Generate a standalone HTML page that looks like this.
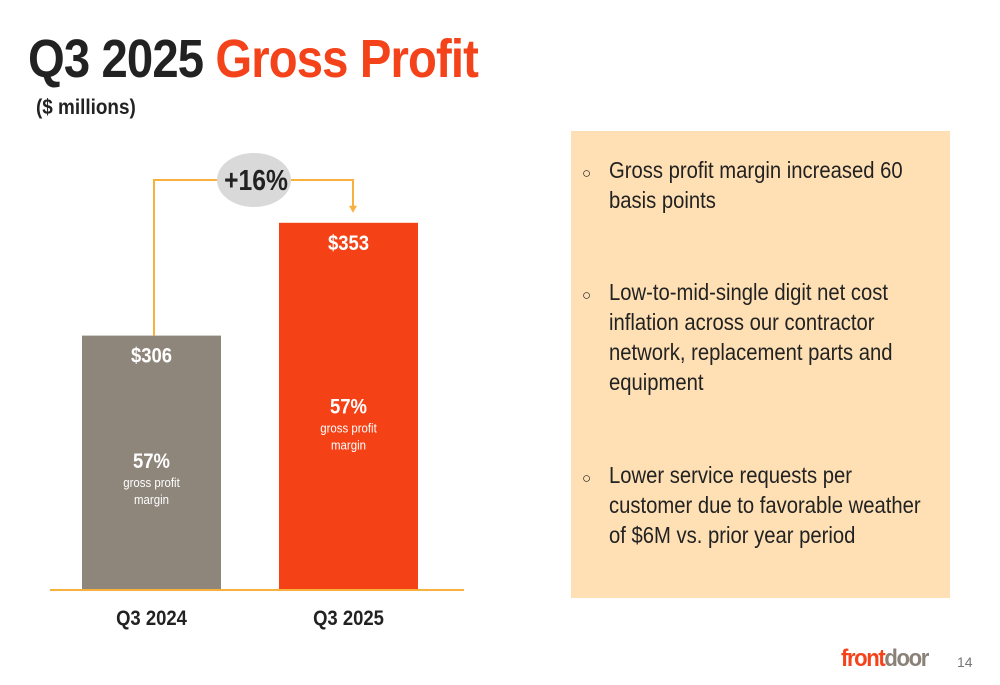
<!DOCTYPE html>
<html><head><meta charset="utf-8"><style>
body{margin:0;width:1000px;height:685px;background:#fff;font-family:"Liberation Sans",sans-serif;position:relative;overflow:hidden}
.abs{position:absolute}
h1{position:absolute;left:28px;top:28px;margin:0;font-size:54px;font-weight:bold;color:#222;letter-spacing:-1px;transform:scaleX(0.875);transform-origin:left;white-space:nowrap}
h1 span{color:#f4431a}
.sub{left:36px;top:96px;font-size:21px;font-weight:bold;color:#222;transform:scaleX(0.9);transform-origin:left}
.box{left:571px;top:131px;width:379px;height:467px;background:#ffe0b4}
.bul{left:582px;font-size:23px;color:#222;width:360px;line-height:30px}
.bul .m{position:absolute;left:0;top:4px;font-size:15px}
.bul .t{margin-left:27px;width:370px;transform:scaleX(0.88);transform-origin:left}
</style></head><body>
<h1>Q3 2025 <span>Gross Profit</span></h1>
<div class="abs sub">($ millions)</div>
<svg class="abs" style="left:0;top:0" width="570" height="685" id="chart"></svg>
<div class="abs box"></div>
<div class="abs bul" style="top:155px"><span class="m">○</span><div class="t">Gross profit margin increased 60 basis points</div></div>
<div class="abs bul" style="top:277px"><span class="m">○</span><div class="t">Low-to-mid-single digit net cost inflation across our contractor network, replacement parts and equipment</div></div>
<div class="abs bul" style="top:460px"><span class="m">○</span><div class="t">Lower service requests per customer due to favorable weather of $6M vs. prior year period</div></div>
<div class="abs" style="left:841px;top:645px;font-size:24px;font-weight:bold;letter-spacing:-1.5px;transform:scaleX(0.92);transform-origin:left"><span style="color:#f4431a">front</span><span style="color:#8a8178">door</span></div>
<div class="abs" style="left:957px;top:654px;font-size:14px;color:#777">14</div>
<script>
const categories=["Q3 2024","Q3 2025"];
const values=[306,353];
const margins=["57%","57%"];
const growth="+16%";
const colors=["#8e857b","#f44115"];
const NS="http://www.w3.org/2000/svg",svg=document.getElementById('chart');
const base=590,vmin=200,ppu=2.4;
const y=v=>base-(v-vmin)*ppu;
const xs=[82,279],bw=139;
function mk(t,a){const e=document.createElementNS(NS,t);for(const k in a)e.setAttribute(k,a[k]);svg.appendChild(e);return e;}
function txt(x,yy,s,size,w,fill,sx){const g=mk('g',{transform:`translate(${x},${yy}) scale(${sx||0.9},1)`});const e=document.createElementNS(NS,'text');const a={x:0,y:0,'font-size':size,'font-weight':w,fill:fill,'text-anchor':'middle','font-family':'Liberation Sans, sans-serif'};for(const k in a)e.setAttribute(k,a[k]);e.textContent=s;g.appendChild(e);return e;}
values.forEach((v,i)=>{
 const top=y(v),cx=xs[i]+bw/2;
 const r=mk('rect',{x:xs[i],y:top,width:bw,height:base-top,fill:colors[i]});
 
 
 const l=txt(cx,top+27,'$'+v,21,'bold','#fff',0.88);
 
 
 const my=top+(base-top)*0.52;
 const m=txt(cx,my,margins[i],21,'bold','#fff',0.88);
 
 
 txt(cx,my+19,'gross profit',13,'normal','#fff',0.88);
 txt(cx,my+36,'margin',13,'normal','#fff',0.88);
 const c=txt(cx,base+35,categories[i],21,'bold','#222',0.88);
 
 
});
const ax=mk('line',{x1:50,x2:464,y1:base,y2:base,stroke:'#f7b13c','stroke-width':2});


const lx=154,rx=353,hy=180;
const p=mk('polyline',{points:`${lx},${y(values[0])} ${lx},${hy} ${rx},${hy} ${rx},${y(values[1])-16}`,fill:'none',stroke:'#f7b13c','stroke-width':2});


mk('polygon',{points:`${rx-4},${y(values[1])-17} ${rx+4},${y(values[1])-17} ${rx},${y(values[1])-10}`,fill:'#f7b13c'});
const el=mk('ellipse',{cx:254,cy:hy,rx:37,ry:27,fill:'#d9d9d9'});


const g=txt(256,hy+10,growth,29,'bold','#222',0.85);


</script>
</body></html>
